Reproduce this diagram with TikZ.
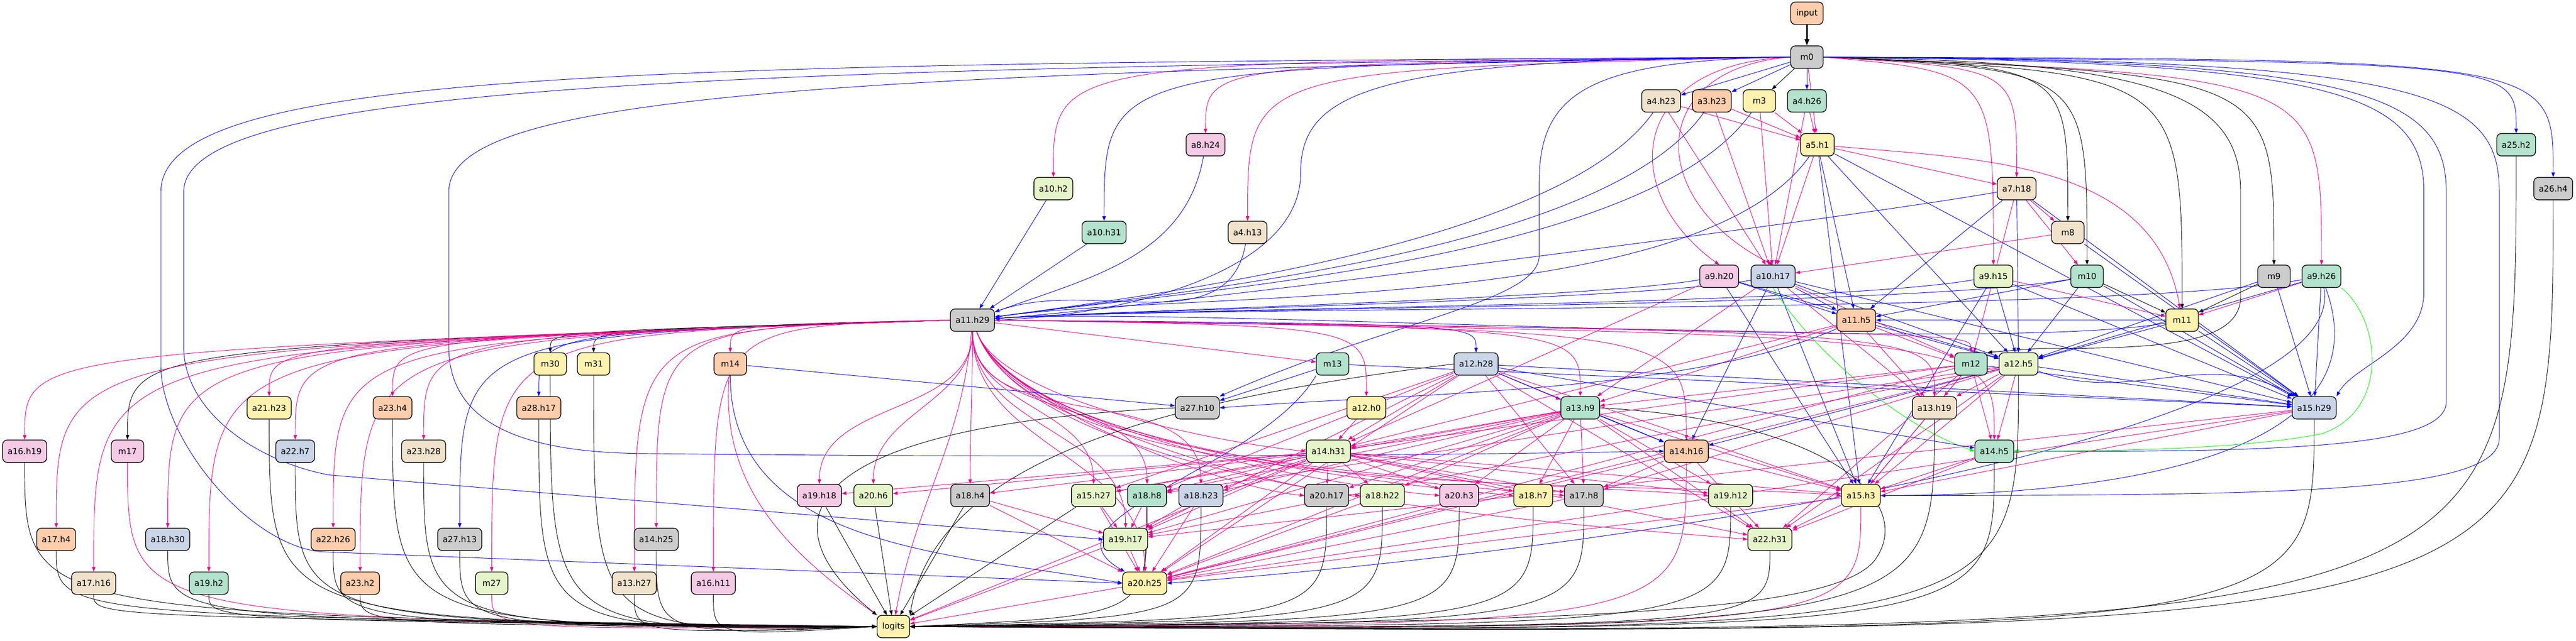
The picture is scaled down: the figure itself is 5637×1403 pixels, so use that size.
\documentclass[tikz,border=0pt]{standalone}
\usepackage{fontspec}
\newfontfamily\headfont{DejaVu Sans}
\usetikzlibrary{arrows.meta,positioning}
\definecolor{pmint}{HTML}{B3E2CD}
\definecolor{ppeach}{HTML}{FDCDAC}
\definecolor{pblue}{HTML}{CBD5E8}
\definecolor{ppink}{HTML}{F4CAE4}
\definecolor{plime}{HTML}{E6F5C9}
\definecolor{pyellow}{HTML}{FFF2AE}
\definecolor{pbeige}{HTML}{F1E2CC}
\definecolor{pgrey}{HTML}{CCCCCC}
\pgfdeclarelayer{edges}
\pgfsetlayers{edges,main}
\tikzset{every node/.append style={transform shape=false}}
\tikzset{
  box/.style={draw, line width=0.45pt, rounded corners=0.1cm, minimum width=0.71cm,
    minimum height=0.49cm, inner xsep=0.11cm, inner ysep=0pt,
    font=\headfont\fontsize{5.15}{6.2}\selectfont},
  mintbox/.style={box, fill=pmint},
  peachbox/.style={box, fill=ppeach},
  bluebox/.style={box, fill=pblue},
  pinkbox/.style={box, fill=ppink},
  limebox/.style={box, fill=plime},
  yellowbox/.style={box, fill=pyellow},
  beigebox/.style={box, fill=pbeige},
  greybox/.style={box, fill=pgrey},
  wire/.style={line width=0.3pt, -{Triangle[length=0.1cm,width=0.075cm]}},
  kline/.style={wire, color=black},
  bline/.style={wire, color=blue},
  qline/.style={wire, color=magenta},
  gline/.style={wire, color=green}
}

\begin{document}
\begin{tikzpicture}[x=0.01cm, y=-0.01cm]
  \useasboundingbox (0,0) rectangle (5637,1403);
  \node[peachbox] (input) at (3954,29) {input};
  \node[greybox] (m0) at (3954,125) {m0};
  \node[beigebox] (a4h23) at (3635,221) {a4.h23};
  \node[peachbox] (a3h23) at (3746,221) {a3.h23};
  \node[yellowbox] (m3) at (3850,221) {m3};
  \node[mintbox] (a4h26) at (3954,221) {a4.h26};
  \node[yellowbox] (a5h1) at (3977,317) {a5.h1};
  \node[pinkbox] (a8h24) at (2638,317) {a8.h24};
  \node[mintbox] (a25h2) at (5506,317) {a25.h2};
  \node[limebox] (a10h2) at (2305,413) {a10.h2};
  \node[beigebox] (a7h18) at (4413,413) {a7.h18};
  \node[greybox] (a26h4) at (5587,413) {a26.h4};
  \node[mintbox] (a10h31) at (2416,509) {a10.h31};
  \node[beigebox] (a4h13) at (2730,509) {a4.h13};
  \node[beigebox] (m8) at (4525,509) {m8};
  \node[pinkbox] (a9h20) at (3762,605) {a9.h20};
  \node[bluebox] (a10h17) at (3880,605) {a10.h17};
  \node[limebox] (a9h15) at (4362,605) {a9.h15};
  \node[mintbox] (m10) at (4567,605) {m10};
  \node[greybox] (m9) at (4976,605) {m9};
  \node[mintbox] (a9h26) at (5080,605) {a9.h26};
  \node[greybox] (a11h29) at (2128,701) {a11.h29};
  \node[peachbox] (a11h5) at (4062,701) {a11.h5};
  \node[yellowbox] (m11) at (4775,701) {m11};
  \node[yellowbox] (m30) at (1204,797) {m30};
  \node[yellowbox] (m31) at (1299,797) {m31};
  \node[peachbox] (m14) at (1598,797) {m14};
  \node[mintbox] (m13) at (2916,797) {m13};
  \node[bluebox] (a12h28) at (3230,797) {a12.h28};
  \node[mintbox] (m12) at (4313,797) {m12};
  \node[limebox] (a12h5) at (4417,797) {a12.h5};
  \node[yellowbox] (a21h23) at (589,893) {a21.h23};
  \node[peachbox] (a23h4) at (859,893) {a23.h4};
  \node[peachbox] (a28h17) at (1179,893) {a28.h17};
  \node[greybox] (a27h10) at (2620,893) {a27.h10};
  \node[yellowbox] (a12h0) at (2990,893) {a12.h0};
  \node[mintbox] (a13h9) at (3458,893) {a13.h9};
  \node[beigebox] (a13h19) at (4233,893) {a13.h19};
  \node[bluebox] (a15h29) at (5064,893) {a15.h29};
  \node[pinkbox] (a16h19) at (54,988) {a16.h19};
  \node[pinkbox] (m17) at (279,988) {m17};
  \node[bluebox] (a22h7) at (646,988) {a22.h7};
  \node[beigebox] (a23h28) at (927,988) {a23.h28};
  \node[limebox] (a14h31) at (2907,988) {a14.h31};
  \node[peachbox] (a14h16) at (3690,988) {a14.h16};
  \node[mintbox] (a14h5) at (4364,988) {a14.h5};
  \node[pinkbox] (a19h18) at (1793,1085) {a19.h18};
  \node[limebox] (a20h6) at (1911,1085) {a20.h6};
  \node[greybox] (a18h4) at (2123,1085) {a18.h4};
  \node[limebox] (a15h27) at (2393,1085) {a15.h27};
  \node[mintbox] (a18h8) at (2510,1085) {a18.h8};
  \node[bluebox] (a18h23) at (2628,1085) {a18.h23};
  \node[greybox] (a20h17) at (2903,1085) {a20.h17};
  \node[limebox] (a18h22) at (3025,1085) {a18.h22};
  \node[pinkbox] (a20h3) at (3193,1085) {a20.h3};
  \node[yellowbox] (a18h7) at (3355,1085) {a18.h7};
  \node[greybox] (a17h8) at (3466,1085) {a17.h8};
  \node[limebox] (a19h12) at (3787,1085) {a19.h12};
  \node[yellowbox] (a15h3) at (4072,1085) {a15.h3};
  \node[peachbox] (a17h4) at (123,1181) {a17.h4};
  \node[bluebox] (a18h30) at (367,1181) {a18.h30};
  \node[peachbox] (a22h26) at (729,1181) {a22.h26};
  \node[greybox] (a27h13) at (1006,1181) {a27.h13};
  \node[greybox] (a14h25) at (1436,1181) {a14.h25};
  \node[limebox] (a19h17) at (2463,1181) {a19.h17};
  \node[limebox] (a22h31) at (3873,1181) {a22.h31};
  \node[beigebox] (a17h16) at (205,1277) {a17.h16};
  \node[mintbox] (a19h2) at (457,1277) {a19.h2};
  \node[peachbox] (a23h2) at (788,1277) {a23.h2};
  \node[limebox] (m27) at (1076,1277) {m27};
  \node[beigebox] (a13h27) at (1388,1277) {a13.h27};
  \node[pinkbox] (a16h11) at (1561,1277) {a16.h11};
  \node[yellowbox] (a20h25) at (2505,1277) {a20.h25};
  \node[yellowbox] (logits) at (1955,1372) {logits};

  \begin{pgfonlayer}{edges}
    % from the input down through m0
    \draw[kline, line width=0.9pt, -{Triangle[length=0.14cm,width=0.1cm]}] (input) -- (m0);
    \draw[kline] (m0) -- (m3);
    \foreach \t in {a4h23,a3h23,a4h26} \draw[bline] (m0) -- (\t);
    \draw[qline] (m0) -- (a5h1);
    \draw[qline] (m0.west) .. controls (3560,140) and (3540,420) .. (a9h20.north);
    \draw[qline] (m0.west) .. controls (3600,150) and (3600,440) .. (a10h17.north);
    \foreach \t/\c/\y in {a10h2/qline/134,a8h24/qline/140,a10h31/bline/146,a4h13/qline/152}
      \draw[\c] (m0.west) .. controls (\t.north |- 0,\y) and (\t.north |- 0,\y) .. (\t.north);
    \foreach \t/\c/\y in {a26h4/bline/130,a25h2/bline/136,a9h26/qline/168,m9/kline/164,m11/kline/160,m10/kline/154,a9h15/qline/158,m8/kline/146,a7h18/qline/150}
      \draw[\c] (m0.east) .. controls (\t.north |- 0,\y) and (\t.north |- 0,\y) .. (\t.north);
    \draw[bline] (m0.west) .. controls (1400,140) and (352,150) .. (352,420) -- (352,800) .. controls (352,960) and (540,1190) .. (700,1208) -- (a20h25.west);
    \draw[bline] (m0.west) .. controls (1500,150) and (402,190) .. (402,420) -- (402,760) .. controls (402,900) and (560,1010) .. (720,1040) -- (a19h17.west);
    \draw[bline] (m0.west) .. controls (1700,160) and (982,220) .. (982,420) -- (982,760) .. controls (982,930) and (1150,990) .. (1400,993) .. controls (2500,1005) and (3200,995) .. (a14h16.west);
    \draw[bline] (m0.west) .. controls (3000,128) and (2846,200) .. (2846,380) .. controls (2846,600) and (2450,690) .. (a11h29.east);
    \draw[bline] (m0.west) .. controls (3480,132) and (3368,200) .. (3368,400) -- (3368,560) .. controls (3368,660) and (3050,700) .. (a27h10.north east);
    \draw[kline] (m0.east) .. controls (4700,135) and (4903,200) .. (4903,420) -- (4903,650) .. controls (4903,760) and (4700,763) .. (4460,763) -- (m12.north east);
    \draw[bline] (m0.east) .. controls (5100,135) and (5304,200) .. (5304,420) -- (5304,640) .. controls (5304,760) and (5150,800) .. (a15h29.north east);
    \draw[bline] (m0.east) .. controls (5150,130) and (5353,200) .. (5353,420) -- (5353,880) .. controls (5353,980) and (5000,990) .. (a14h5.east);
    \draw[bline] (m0.east) .. controls (5300,130) and (5469,200) .. (5469,420) -- (5469,960) .. controls (5469,1080) and (5000,1085) .. (a15h3.east);

    % upper heads
    \foreach \s in {a4h23,a3h23,m3,a4h26} {
      \draw[qline] (\s) -- (a5h1);
      \draw[qline] (\s) -- (a10h17);
    }
    \foreach \s in {a4h23,a3h23,m3,a5h1}
      \draw[bline] (\s) to[out=-125,in=8,looseness=0.6] (a11h29);
    \draw[qline] (a5h1) -- (a10h17);
    \draw[qline] (a5h1) -- (a7h18);
    \draw[qline] (a5h1) to[out=-5,in=100] (m11);
    \foreach \t in {a11h5,a12h5,a15h3,a15h29} \draw[bline] (a5h1) -- (\t);
    \foreach \s in {a10h2,a10h31} \draw[bline] (\s) -- (a11h29);
    \foreach \s in {a8h24,a4h13} \draw[bline] (\s) to[out=-100,in=20] (a11h29);
    \foreach \t in {m8,m10,m12} \draw[qline] (a7h18) -- (\t);
    \foreach \t in {a11h5,a12h5,a15h29} \draw[bline] (a7h18) -- (\t);
    \draw[qline] (m8) -- (a10h17);
    \draw[bline] (m8) -- (a15h29);
    \foreach \s in {a9h20,a10h17,a7h18,a9h15,m10,a9h26,m11}
      \draw[bline] (\s) to[out=190,in=4,looseness=0.4] (a11h29);
    \foreach \t in {a11h5,a12h5,a15h3} \draw[bline] (a9h20) -- (\t);
    \draw[qline] (a9h20) -- (a14h31);
    \foreach \t in {a11h5,a12h5,a15h29,a14h16,a15h3} \draw[bline] (a10h17) -- (\t);
    \foreach \t in {m12,a13h19,a13h9} \draw[qline] (a10h17) -- (\t);
    \draw[gline] (a10h17.south) .. controls (3960,760) and (4150,930) .. (a14h5.west);
    \foreach \t in {a12h5,a15h29,a15h3} \draw[bline] (a9h15) -- (\t);
    \draw[qline] (a9h15) -- (m11);
    \draw[kline] (m10) -- (m11);
    \foreach \t in {a11h5,a12h5,a15h29} \draw[bline] (m10) -- (\t);
    \draw[kline] (m9) -- (m11);
    \foreach \t in {a12h5,a15h29} \draw[bline] (m9) -- (\t);
    \draw[qline] (a9h26) -- (m11);
    \foreach \t in {a12h5,a15h29} \draw[bline] (a9h26) -- (\t);
    \draw[bline] (a9h26) to[out=-70,in=0] (a15h3.east);
    \draw[bline] (a9h26) .. controls (5150,950) and (3600,1200) .. (a20h25.east);
    \draw[gline] (a9h26.south east) .. controls (5210,700) and (5230,900) .. (5080,950) .. controls (4900,985) and (4600,988) .. (a14h5.east);
    \foreach \t in {m12,a13h9,a13h19,a14h31} \draw[qline] (a11h5) -- (\t);
    \draw[bline] (a11h5) -- (a12h5);
    \draw[bline] (a11h5) .. controls (3700,860) and (3100,860) .. (a27h10.east);
    \foreach \t in {a12h5,a11h5,a15h29} \draw[bline] (m11) -- (\t);

    % a11.h29 fanning out
    \foreach \t/\c [count=\i] in {m14/qline,a16h11/qline,a14h25/qline,a13h27/qline,m31/kline,m30/kline,a28h17/bline,m27/qline,a27h13/bline,a23h28/qline,a23h4/qline,a23h2/qline,a22h26/qline,a22h7/qline,a21h23/qline,a19h2/qline,a18h30/qline,m17/kline,a17h16/qline,a17h4/qline,a16h19/qline}
    {
      \pgfmathsetmacro\yy{708+3*\i}
      \draw[\c] (a11h29.west) .. controls (\t.north |- 0,\yy) and (\t.north |- 0,\yy) .. (\t.north);
    }
    \draw[qline] (a11h29) -- (m13);
    \foreach \t/\c [count=\i] in {a12h28/bline,a12h0/qline,a13h9/qline,a14h16/qline,a13h19/qline,m12/qline,a14h5/qline}
    {
      \pgfmathsetmacro\yy{706+4*\i}
      \draw[\c] (a11h29.east) .. controls (\t.north |- 0,\yy) and (\t.north |- 0,\yy) .. (\t.north);
    }
    \foreach \t in {a14h31,a20h17,a18h22,a20h3,a18h7,a17h8,a19h12,a22h31,a15h3}
      \draw[qline] (a11h29) to[out=-70,in=175,looseness=0.55] (\t.west);
    \foreach \t in {a19h18,a20h6,a18h4,a15h27,a18h8,a18h23,a19h17,a20h25}
      \draw[qline] (a11h29) to[out=-90,in=90] (\t);
    \draw[qline] (a11h29) to[out=-95,in=80] (logits);

    % middle layers
    \draw[bline] (m14) -- (a27h10);
    \draw[bline] (m14) to[out=-90,in=170] (a20h25.west);
    \draw[qline] (m14) to[out=-95,in=145] (logits);
    \draw[bline] (m13) -- (a27h10);
    \draw[bline] (m13.south west) to[out=-120,in=150] (a20h25);
    \draw[bline] (m13) -- (a15h29);
    \foreach \t in {a13h9,a14h31,a15h27,a18h8,a19h17,a17h8,a15h3,a22h31,a20h25} \draw[qline] (a12h28) -- (\t);
    \foreach \t in {a14h16,a14h5,a15h29} \draw[bline] (a12h28) -- (\t);
    \draw[kline] (a12h28.west) .. controls (2600,870) and (2050,990) .. (logits.north east);
    \foreach \t in {a13h19,a13h9,a14h5,a14h31,a15h3,a22h31,a20h25} \draw[qline] (m12) -- (\t);
    \draw[bline] (m12) -- (a15h29);
    \draw[bline] (a12h5) -- (a14h16);
    \draw[bline] (a12h5) -- (a15h29);
    \draw[bline] (a12h5) to[out=-20,in=150] (a15h29);
    \foreach \t in {a13h19,a14h5,a19h17,a18h8,a20h25,a22h31,a15h3,a17h8} \draw[qline] (a12h5) -- (\t);
    \draw[kline] (a27h10.west) .. controls (1800,930) and (1640,1120) .. (logits.north west);
    \draw[qline] (a12h0) -- (a14h31);
    \draw[bline] (a13h9) -- (a14h16);
    \foreach \t in {a14h31,a20h17,a18h22,a20h3,a18h7,a17h8,a19h12,a15h3,a22h31,a18h8,a18h23,a15h27,a19h17,a20h25} \draw[qline] (a13h9) -- (\t);
    \draw[kline] (a13h9.east) .. controls (4000,920) and (4200,1100) .. (4100,1230) .. controls (4000,1340) and (3500,1365) .. (logits.east);
    \draw[qline] (a13h19) -- (a15h3);
    \foreach \t in {a15h3,a19h17,a20h25} \draw[qline] (a15h29) -- (\t);
    \foreach \t in {a19h18,a20h6,a18h4,a15h27,a18h8,a18h23,a19h17,a20h25,a20h17,a18h22,a20h3,a18h7,a17h8,a19h12,a15h3,a22h31,logits} \draw[qline] (a14h31) -- (\t);
    \foreach \t in {a15h3,a22h31,a17h8,a20h25} \draw[qline] (a14h16) -- (\t);
    \foreach \t in {a15h3,a22h31} \draw[qline] (a14h5) -- (\t);
    \foreach \s in {a18h4,a15h27,a18h8,a18h23} {
      \draw[qline] (\s) -- (a19h17);
      \draw[qline] (\s) -- (a20h25);
    }
    \foreach \s in {a17h8,a18h22,a15h3,a19h17} \draw[qline] (\s) -- (a20h25);
    \draw[qline] (a15h3) -- (a22h31);

    % into logits
    \foreach \s in {a19h18,a20h6,a18h4,a15h27} \draw[kline] (\s) -- (logits);
    \foreach \s in {a19h17,a20h25} \draw[qline] (\s) -- (logits);
    \foreach \s/\c [count=\i] in {a16h11/kline,a14h25/kline,a13h27/kline,m31/kline,m30/kline,a28h17/kline,m27/qline,a27h13/kline,a23h28/kline,a23h4/kline,a23h2/kline,a22h26/kline,a22h7/kline,a21h23/kline,a19h2/kline,a18h30/kline,m17/qline,a17h16/kline,a17h4/kline,a16h19/kline}
    {
      \pgfmathsetmacro\yy{1396-2.5*\i}
      \draw[\c] (\s.south) .. controls (\s.south |- 0,\yy) and (\s.south |- 0,\yy) .. (logits.west);
    }
    \foreach \s/\c [count=\i] in {a18h8/kline,a18h23/kline,a20h17/kline,a18h22/kline,a20h3/kline,a18h7/kline,a17h8/kline,a14h16/qline,a19h12/kline,a22h31/kline,a15h3/qline,a13h19/kline,a14h5/kline,a12h5/kline,a15h29/kline,a25h2/kline,a26h4/kline}
    {
      \pgfmathsetmacro\yy{1345+3*\i}
      \draw[\c] (\s.south) .. controls (\s.south |- 0,\yy) and (\s.south |- 0,\yy) .. (logits.east);
    }
  \end{pgfonlayer}
\end{tikzpicture}
\end{document}
